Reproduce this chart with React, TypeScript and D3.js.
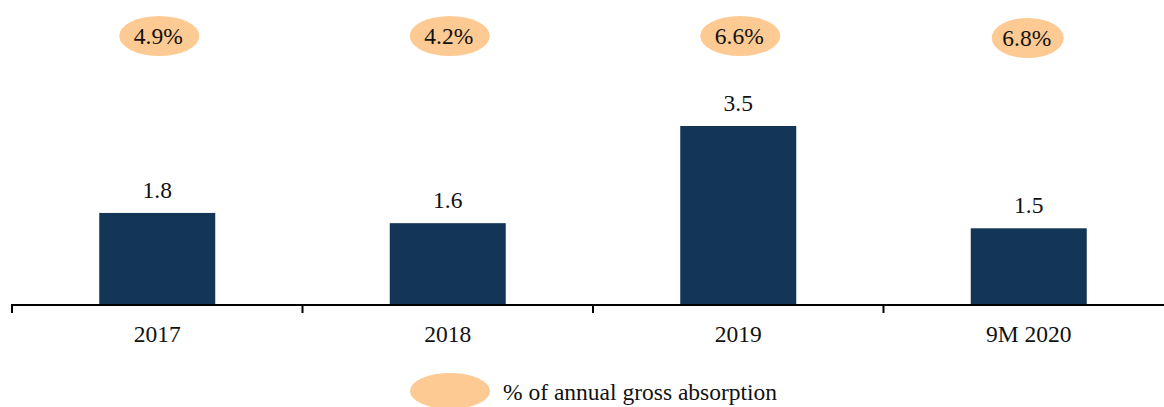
import React from "react";
import * as d3 from "d3";

const categories = ["2017", "2018", "2019", "9M 2020"];
const values = [1.8, 1.6, 3.5, 1.5];
const percentLabels = ["4.9%", "4.2%", "6.6%", "6.8%"];
const legendLabel = "% of annual gross absorption";

const W = 1164;
const H = 407;
const BAR = "#133556";
const PEACH = "#FDCA94";
const FONT = "'Liberation Serif', 'Times New Roman', serif";

export default function App() {
  const x = d3.scaleBand<string>().domain(categories).range([12, 1174]).paddingInner(0).paddingOuter(0);
  const y = d3.scaleLinear().domain([0, 3.5]).range([305, 126]);
  const bw = 116;
  return (
    <svg width={W} height={H} style={{ position: "absolute", left: 0, top: 0 }} fontFamily={FONT}>
      {categories.map((c, i) => {
        const cx = (x(c) ?? 0) + x.bandwidth() / 2;
        const small = i === 3;
        const ecx = small ? cx - 1 : cx + 2;
        const ecy = small ? 38 : 36;
        return (
          <g key={c}>
            <rect x={cx - bw / 2} y={y(values[i])} width={bw} height={y(0) - y(values[i])} fill={BAR} />
            <text x={cx} y={y(values[i]) - 15} textAnchor="middle" fontSize={23.5} fill="#111">
              {values[i].toFixed(1)}
            </text>
            <ellipse cx={ecx} cy={ecy} rx={small ? 36 : 40} ry={20} fill={PEACH} />
            <text x={ecx - 1} y={ecy + 8} textAnchor="middle" fontSize={23.5} fill="#111">
              {percentLabels[i]}
            </text>
            <text x={cx} y={342} textAnchor="middle" fontSize={23.5} fill="#111">
              {c}
            </text>
          </g>
        );
      })}
      <line x1={11} x2={W} y1={305} y2={305} stroke="#000" strokeWidth={2} />
      {categories.map((c) => (
        <line key={"t" + c} x1={(x(c) ?? 0)} x2={(x(c) ?? 0)} y1={305} y2={313} stroke="#000" strokeWidth={2} />
      ))}
      <ellipse cx={450} cy={391} rx={40} ry={18} fill={PEACH} />
      <text x={503} y={400} fontSize={23.5} fill="#111">{legendLabel}</text>
    </svg>
  );
}
